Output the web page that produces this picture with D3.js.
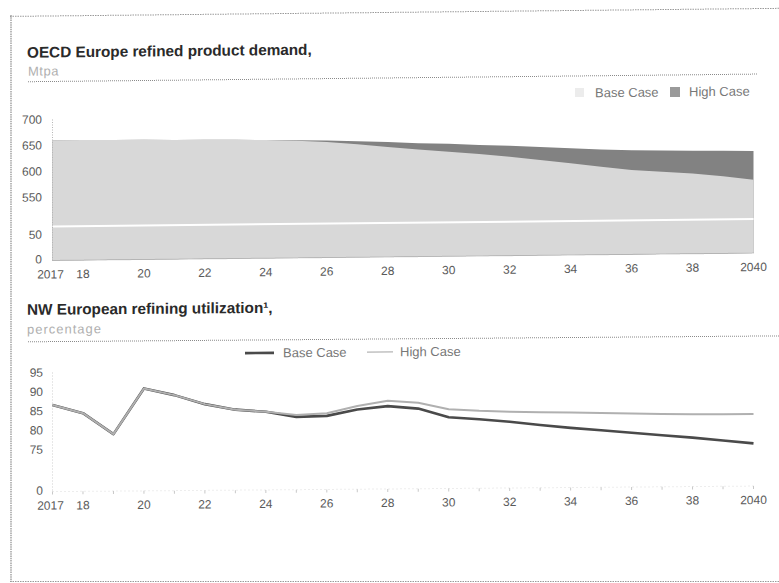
<!DOCTYPE html>
<html><head><meta charset="utf-8">
<script src="https://cdn.jsdelivr.net/npm/d3@7"></script>
<style>
html,body{margin:0;padding:0;background:#fff;}
svg{display:block;font-family:"Liberation Sans",Arial,Helvetica,sans-serif;}
</style></head><body>
<svg id="chart" width="779" height="583"></svg>
<script>
// ---------- data ----------
const years = [2017,2018,2019,2020,2021,2022,2023,2024,2025,2026,2027,2028,2029,2030,2031,2032,2033,2034,2035,2036,2037,2038,2039,2040];
const demandBase = [660,660,659,659,658,658,657,656,654,651,646,640,635,630,625,619,612,605,598,591,587,583,577,570];
const demandHigh = [660,660,659,659,658,658,657,656,655,654,652,650,647,645,642,640,637,634,631,629,628,627,626,625];
const utilBase = [86.6,84.4,78.9,90.7,88.9,86.5,85.0,84.4,83.0,83.2,84.8,85.6,84.9,82.6,82.0,81.3,80.4,79.6,78.9,78.2,77.5,76.8,76.0,75.2];
const utilHigh = [86.6,84.4,78.9,90.7,88.9,86.5,85.0,84.4,83.5,83.9,85.7,87.0,86.4,84.7,84.2,83.9,83.7,83.6,83.4,83.2,83.0,82.9,82.8,82.8];
const xTickYears = [2017,2018,2020,2022,2024,2026,2028,2030,2032,2034,2036,2038,2040];
const xTickLabels = ["2017","18","20","22","24","26","28","30","32","34","36","38","2040"];
const demandTicks = [0,50,550,600,650,700];
const utilTicks = [0,75,80,85,90,95];
const legendLabels = ["Base Case","High Case"];

// ---------- drawing ----------
const svg = d3.select("#chart");
const gray = "#5a5a5a";

// frame
svg.append("line").attr("x1",11).attr("x2",11).attr("y1",15).attr("y2",582)
  .attr("stroke","#8c8c8c").attr("stroke-width",1.2).attr("stroke-dasharray","1.5,0.8");
svg.append("line").attr("x1",10).attr("x2",779).attr("y1",581.5).attr("y2",581.5)
  .attr("stroke","#9a9a9a").attr("stroke-width",1).attr("stroke-dasharray","1.5,1");

const x = d3.scaleLinear().domain([2017,2040]).range([52.5,753.5]);

// ===== TOP CHART =====
const gTop = svg.append("g").attr("transform","skewY(-0.6)");
gTop.append("line").attr("x1",10).attr("x2",779).attr("y1",16.5).attr("y2",16.5)
  .attr("stroke","#9a9a9a").attr("stroke-width",1).attr("stroke-dasharray","1.5,1");
gTop.append("text").attr("x",27).attr("y",58).attr("font-size",15.3).attr("font-weight","bold")
  .attr("fill","#2a2a2a").text("OECD Europe refined product demand,");
gTop.append("text").attr("x",28).attr("y",76).attr("font-size",13).attr("letter-spacing",0.5)
  .attr("fill","#b0b0b0").text("Mtpa");
gTop.append("line").attr("x1",28).attr("x2",757).attr("y1",82).attr("y2",82)
  .attr("stroke","#8a8a8a").attr("stroke-width",1).attr("stroke-dasharray","1,1");

const yTop = d3.scaleLinear().domain([0,66,494,700]).range([261,227,227,120]);

// areas
const areaGen = d3.area().x((d,i)=>x(years[i])).y0(yTop(0)).y1(d=>yTop(d));
gTop.append("path").datum(demandHigh).attr("d",areaGen).attr("fill","#828282");
gTop.append("path").datum(demandBase).attr("d",areaGen).attr("fill","#d8d8d8");
// axis break
gTop.append("line").attr("x1",x(2017)).attr("x2",x(2040)).attr("y1",yTop(66)).attr("y2",yTop(66))
  .attr("stroke","#fff").attr("stroke-width",2);
// axis lines
gTop.append("line").attr("x1",x(2017)).attr("x2",x(2017)).attr("y1",yTop(700)).attr("y2",yTop(0))
  .attr("stroke","#b5b5b5").attr("stroke-dasharray","1,1.5");
gTop.append("line").attr("x1",x(2017)).attr("x2",x(2040)).attr("y1",yTop(0)).attr("y2",yTop(0))
  .attr("stroke","#a0a0a0").attr("stroke-dasharray","1,1");
// y ticks
gTop.selectAll(".yt").data(demandTicks).enter().append("text")
  .attr("x",42).attr("y",d=>yTop(d)+(d===0?3:4)).attr("text-anchor","end").attr("font-size",12)
  .attr("fill",gray).text(d=>d);
// x ticks
gTop.selectAll(".xt").data(xTickYears).enter().append("text")
  .attr("x",(d,i)=>x(d)-(i===0?2:0)).attr("y",279).attr("text-anchor","middle").attr("font-size",12)
  .attr("fill",gray).text((d,i)=>xTickLabels[i]);
// legend
gTop.append("rect").attr("x",575).attr("y",94).attr("width",9).attr("height",9).attr("fill","#ececec");
gTop.append("text").attr("x",595).attr("y",103.5).attr("font-size",13).attr("fill","#777").text(legendLabels[0]);
gTop.append("rect").attr("x",670).attr("y",94).attr("width",10).attr("height",10).attr("fill","#9a9a9a");
gTop.append("text").attr("x",689).attr("y",103.5).attr("font-size",13).attr("fill","#777").text(legendLabels[1]);

// ===== BOTTOM CHART =====
const gBot = svg.append("g").attr("transform","skewY(-0.45)");
gBot.append("text").attr("x",27).attr("y",315).attr("font-size",15.3).attr("font-weight","bold")
  .attr("fill","#2a2a2a")
  .text("NW European refining utilization¹,");
gBot.append("text").attr("x",27).attr("y",334).attr("font-size",13).attr("letter-spacing",1)
  .attr("fill","#b0b0b0").text("percentage");
gBot.append("line").attr("x1",28).attr("x2",779).attr("y1",342).attr("y2",342)
  .attr("stroke","#8a8a8a").attr("stroke-width",1).attr("stroke-dasharray","1,1");

const yBot = d3.scaleLinear().domain([0,70,95]).range([492,469.3,373]);

gBot.append("line").attr("x1",x(2017)).attr("x2",x(2017)).attr("y1",yBot(95)).attr("y2",yBot(0))
  .attr("stroke","#cfcfcf").attr("stroke-dasharray","1,2");
gBot.append("line").attr("x1",x(2017)).attr("x2",x(2040)).attr("y1",yBot(0)).attr("y2",yBot(0))
  .attr("stroke","#dcdcdc").attr("stroke-dasharray","1,3");
gBot.selectAll(".mt").data(years).enter().append("line")
  .attr("x1",d=>x(d)).attr("x2",d=>x(d)).attr("y1",yBot(0)).attr("y2",yBot(0)+3)
  .attr("stroke","#c8c8c8");

const lineGen = d3.line().x((d,i)=>x(years[i])).y(d=>yBot(d));
gBot.append("path").datum(utilBase).attr("d",lineGen).attr("fill","none")
  .attr("stroke","#4a4a4a").attr("stroke-width",2.6).attr("stroke-linejoin","round");
gBot.append("path").datum(utilHigh).attr("d",lineGen).attr("fill","none")
  .attr("stroke","#b0b0b0").attr("stroke-width",2).attr("stroke-linejoin","round");

gBot.selectAll(".yt").data(utilTicks).enter().append("text")
  .attr("x",43).attr("y",d=>yBot(d)+(d===0?3:4)).attr("text-anchor","end").attr("font-size",12)
  .attr("fill",gray).text(d=>d);
gBot.selectAll(".xt").data(xTickYears).enter().append("text")
  .attr("x",(d,i)=>x(d)-(i===0?2:0)).attr("y",510).attr("text-anchor","middle").attr("font-size",12)
  .attr("fill",gray).text((d,i)=>xTickLabels[i]);

// legend
gBot.append("line").attr("x1",245).attr("x2",274).attr("y1",355).attr("y2",355)
  .attr("stroke","#4a4a4a").attr("stroke-width",2.6);
gBot.append("text").attr("x",283).attr("y",359.5).attr("font-size",13).attr("fill","#777").text(legendLabels[0]);
gBot.append("line").attr("x1",367).attr("x2",393).attr("y1",355).attr("y2",355)
  .attr("stroke","#b5b5b5").attr("stroke-width",1.2);
gBot.append("text").attr("x",400).attr("y",359.5).attr("font-size",13).attr("fill","#777").text(legendLabels[1]);
</script>
</body></html>
